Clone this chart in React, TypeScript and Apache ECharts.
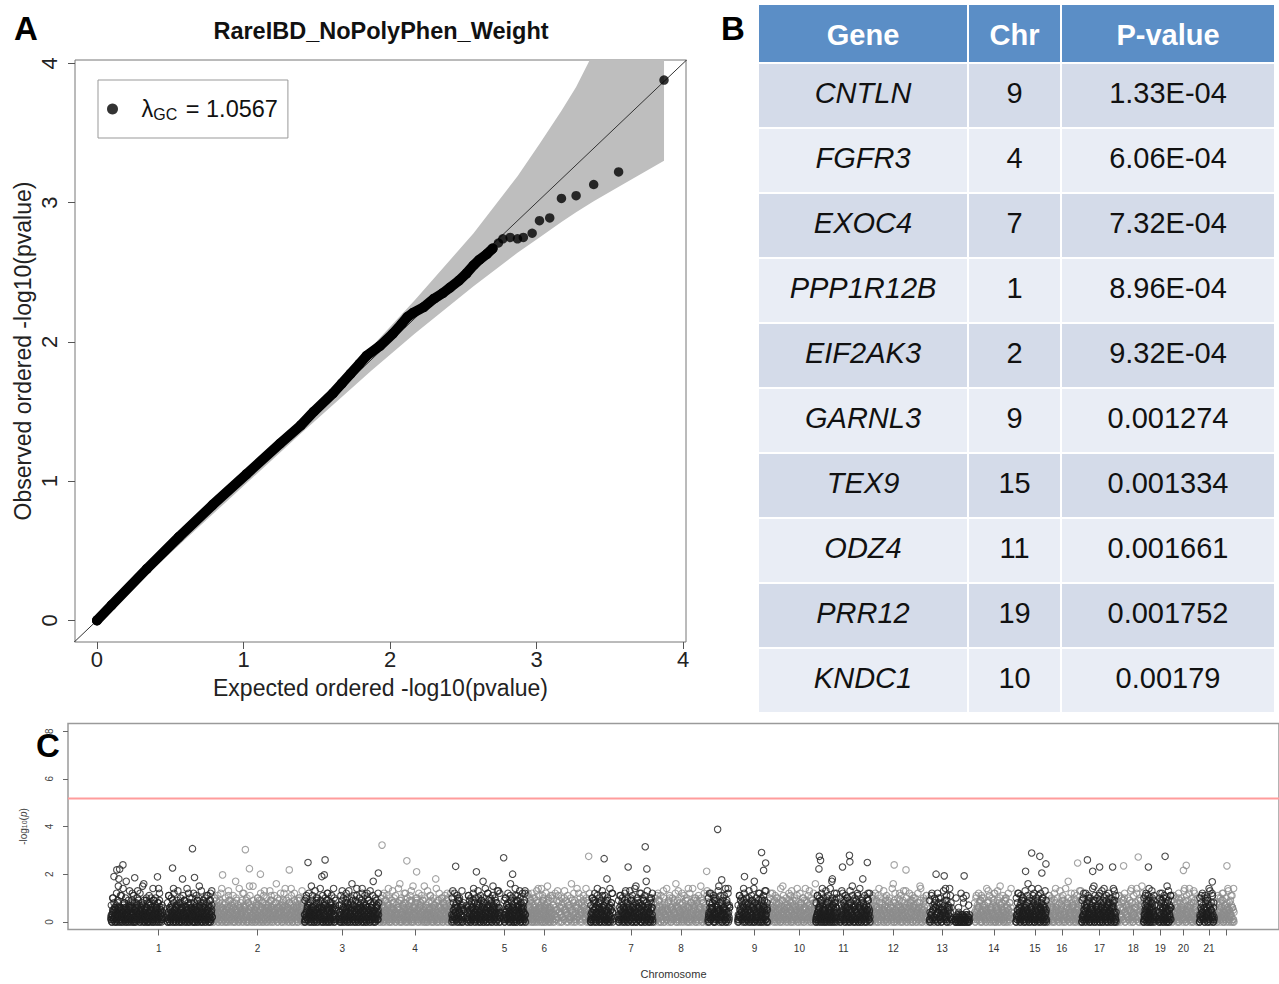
import React, { useEffect, useRef } from "react";
import * as echarts from "echarts";

// ---------------- Panel A : QQ plot ----------------
const QQ_TITLE = "RareIBD_NoPolyPhen_Weight";
const LAMBDA_GC = "1.0567";
const QQ_TICKS = [0, 1, 2, 3, 4];
// dense stretch of the ordered points (expected, observed)
const QQ_DENSE_EXPECTED = [0.0, 0.1, 0.34, 0.56, 0.79, 1.02, 1.25, 1.39, 1.48, 1.61, 1.67, 1.73, 1.79, 1.84, 1.93, 2.02, 2.08, 2.12, 2.16, 2.23, 2.3, 2.36, 2.41, 2.47, 2.52, 2.57, 2.61, 2.66, 2.7];
const QQ_DENSE_OBSERVED = [0.0, 0.11, 0.37, 0.6, 0.83, 1.05, 1.27, 1.4, 1.5, 1.63, 1.7, 1.77, 1.84, 1.9, 1.97, 2.06, 2.13, 2.18, 2.21, 2.25, 2.31, 2.35, 2.39, 2.44, 2.49, 2.55, 2.59, 2.63, 2.67];
// sparse top points
const QQ_TAIL_EXPECTED = [2.74, 2.77, 2.82, 2.87, 2.91, 2.97, 3.02, 3.09, 3.17, 3.27, 3.39, 3.56, 3.87];
const QQ_TAIL_OBSERVED = [2.71, 2.74, 2.75, 2.74, 2.75, 2.78, 2.87, 2.89, 3.03, 3.05, 3.13, 3.22, 3.88];
// 95% confidence band
const BAND_EXPECTED = [0, 0.87, 1.39, 1.87, 2.17, 2.57, 2.87, 3.02, 3.17, 3.27, 3.39, 3.57, 3.87];
const BAND_LOWER = [0, 0.84, 1.34, 1.79, 2.06, 2.4, 2.64, 2.75, 2.86, 2.93, 3.01, 3.12, 3.3];
const BAND_UPPER = [0, 0.9, 1.44, 1.96, 2.3, 2.78, 3.19, 3.42, 3.66, 3.83, 4.08, 4.49, 5.47];

// ---------------- Panel B : table ----------------
const TABLE_HEADERS = ["Gene", "Chr", "P-value"];
const GENES = ["CNTLN", "FGFR3", "EXOC4", "PPP1R12B", "EIF2AK3", "GARNL3", "TEX9", "ODZ4", "PRR12", "KNDC1"];
const GENE_CHR = ["9", "4", "7", "1", "2", "9", "15", "11", "19", "10"];
const GENE_PVALUES = ["1.33E-04", "6.06E-04", "7.32E-04", "8.96E-04", "9.32E-04", "0.001274", "0.001334", "0.001661", "0.001752", "0.00179"];

// ---------------- Panel C : Manhattan plot ----------------
const CHR_LABELS = ["1", "2", "3", "4", "5", "6", "7", "8", "9", "10", "11", "12", "13", "14", "15", "16", "17", "18", "19", "20", "21", ""];
const CHR_TICK_MB = [223, 466, 674, 853, 1073, 1171, 1384, 1507, 1688, 1798, 1906, 2029, 2149, 2276, 2377, 2443, 2536, 2619, 2685, 2742, 2805, 2847];
const MANHATTAN_Y_TICKS = [0, 2, 4, 6, 8];
const SIGNIF_LINE = 5.17;
// genes in each stretch: [chromosome, start (cumulative Mb), end (cumulative Mb), -log10(p) in tenths as base-36 chars]
const SEGMENTS: [number, number, number, string][] = [
  [1, 105, 233, "21035a14206371528f043162b0542718306h2413950261748c03125064817d2935104628173g0542196032704851a2630914275360184e290351621"],
  [1, 243, 355, "3014b2605173240e81526039147220638510i4271930526148c0317256a0413862057149032f6182405397126043b81527036914d2"],
  [2, 355, 581, "20417a3615204839126e0531742805163b92047153862014h39527106148235c0716429301857f2460317925140683a1724059136208d4175302684139b5027164385g120649371520864c13729540618327e1405629381746025a9314716280"],
  [3, 581, 659, "3102b4618253704f1926304715a82043617295j10462837150c4962031748526e13095"],
  [3, 666, 764, "1420371d5603218495a0271634805g2917350426b18305247169e0352841706c3924150836172h450219637418"],
  [4, 764, 943, "2051837b4016295378e1204639185a2407315862g1094372815c6032741958d2061473829a5103628471950f3172046385b2916047315i8204697132a5081746239c50418376"],
  [5, 943, 973, "31d502647183a029416350728"],
  [5, 980, 1063, "0261b4375081263e9410527386a140259317h0862415307c4926153804f71629350813d4620"],
  [5, 1071, 1125, "1304a5271863402g5917360428b150397264d10853726149c3"],
  [6, 1125, 1188, "20513c4726918350a41637205948e152637180b4925063718f52904163"],
  [6, 1188, 1284, "4b0736152d849307261a5394807162g5380941726c3058419672e380514"],
  [7, 1284, 1340, "0314a6258190347e2516083941b627035181i4920637158c40"],
  [7, 1352, 1438, "21063b5281470395d1628034175a9204631582f0749216380c5172943061h8253704191a630"],
  [8, 1438, 1573, "3502816b4937205164d0832715394a6025174386g1096253471c8204537196e2048163759a3012847365f9108426731b5"],
  [9, 1573, 1627, "024c6317582a0493716254f1837205946b1305827e416"],
  [9, 1646, 1720, "1302b5648173e9024617358a2041963750h8132647290c5318042769d31560"],
  [10, 1720, 1838, "41027c5386129047a5318260749f1352806174392b50861734295e1046382715a0963248175d2046913857g"],
  [11, 1838, 1891, "0213b4056172839e1042536071a8293041526h1730485962c0"],
  [11, 1897, 1972, "2104d6358170492a6315028471f3960527148b3061725049i8136204759c3152"],
  [12, 1972, 2112, "3061b2847159302e6418273056a9140285367142g0938516274c0615392847d6021537184906a3725048613f9260485173b2"],
  [13, 2117, 2173, "1403c5268193704a2615038472e1905362b81"],
  [13, 2180, 2217, "0102310420131032a010214301203"],
  [14, 2227, 2320, "2405b1736182940a5327160483d9215046378c1062594031f7285140639a2705318264"],
  [15, 2330, 2406, "0315c2640718293a5106427385g1094236517b8302164795e13026584a716204391"],
  [16, 2406, 2492, "3140b6278150392e4617028536a9130472681h5024938176c0453162809d7"],
  [17, 2492, 2577, "0213c5046178293a4016357281f0942615374b9031627048e5213960478a5130627948d0314"],
  [18, 2577, 2644, "4107b2638159a0463271958e2043681c5720396f14"],
  [19, 2644, 2673, "0315b62840719e3502618a4093172"],
  [19, 2680, 2712, "1402c6381950a2736140f8295031b6"],
  [20, 2712, 2778, "2504b1736182a0493571628e1045392c6718203d5946103"],
  [21, 2781, 2818, "0316b427150a8362904e17358c2061"],
  [22, 2822, 2867, "3105a2748163c9024715386e1052937b6014"],
  // further genes in the same stretches (the dense low core)
  [1, 105, 233, "13024152630410253614025132046351204130261524036142052130462513024163502413025163042152063410251304625130426153024"],
  [1, 243, 355, "204130521463025140362150421306251430264105320416132504026135024162041305261403251604210352"],
  [2, 355, 581, "1305241620351402634105230416251304620513402615304125630214052613042503614205236104251306241503621405231604235140263105241630251403624051302416250314"],
  [3, 581, 659, "03142516304215203641025130462514302615042130526140325160421305261"],
  [3, 666, 764, "20413052614032516042103526140235104213052614302516042130562410352614025130462153"],
  [4, 764, 943, "1402513062415302614052130462513024163502413025163042152063410251304625130426153024163502413025163042150263410251306425130426153024163502"],
  [5, 943, 973, "0213524130625140321605"],
  [5, 980, 1063, "14025130462153024163502413025163042152063410251304625130426153024"],
  [5, 1071, 1125, "203142516304215203641025130462514302615042130"],
  [6, 1125, 1188, "0132415026314052130462514302615042130526140325160421305"],
  [6, 1188, 1284, "214035120463025140362150421306251430264105320"],
  [7, 1284, 1340, "102413052614032516042103526140235104213052614"],
  [7, 1352, 1438, "03125140362150421306251430264105320416132504026135024162041305261"],
  [8, 1438, 1573, "2104351206430251403621504213062514302641053204161325040261350241620413052614032516042"],
  [9, 1573, 1627, "1302415263041025361402513204635120413026"],
  [9, 1646, 1720, "0213524130625140321605241302615042130526140325160421305"],
  [10, 1720, 1838, "30142516304215203641025130462514302615042130526140325160421305261403251604210352"],
  [11, 1838, 1891, "1023415263041025361402513204635120413026152403614"],
  [11, 1897, 1972, "012352413062514032160524130261504213052614032516042130526140"],
  [12, 1972, 2112, "21405312046302514036215042130625143026410532041613250402613502416204130526140325160421035261402"],
  [13, 2117, 2173, "01324150263140521304625143026150421"],
  [13, 2180, 2217, "1021032010230120310201"],
  [14, 2227, 2320, "13024152630410253614025132046351204130261524036142052130462513024"],
  [15, 2330, 2406, "021352413062514032160524130261504213052614032516042130526140"],
  [16, 2406, 2492, "1403251604210352614023510421305261430251604213056241035"],
  [17, 2492, 2577, "0213524130625140321605241302615042130526140325160421305261403251604210"],
  [18, 2577, 2644, "20413052614032516042103526140235104"],
  [19, 2644, 2673, "0132415026314052130462514302"],
  [19, 2680, 2712, "1024130526140325160421035261"],
  [20, 2712, 2778, "302415263041025361402513204635120413026152403"],
  [21, 2781, 2818, "0213524130625140321605241302"],
  [22, 2822, 2867, "10324150263140521304625143026150"],
  // looser cloud of genes between about 0.5 and 1.5
  [1, 105, 233, "7a85c96b4e8a57d69b84a7c5f96a8b75e9a68c47"],
  [1, 243, 355, "8b6a9c57d8a6b94e7a86c5b9a7d68a5b9c7"],
  [2, 355, 581, "6a9b7c85a6d97b8a5e69c7a8b6f57a9c8b6a7d95b8a6c79e5a8b7c69a5d8"],
  [3, 581, 659, "9a7c86b5d9a8e6b7a9c58b6a7"],
  [3, 666, 764, "7b9a6c8d5a7b9e6a8c7b5a9d6b8a7c"],
  [4, 764, 943, "8a6c9b7a5d8b6e9a7c8a5b9f6a8c7b9a6d5b8a7e9c6a8b7a5c"],
  [5, 943, 973, "a8c6b9a7d5"],
  [5, 980, 1063, "7b9a6c8a5d7b9a8e6c7a9b5a8d6c"],
  [5, 1071, 1125, "9a7c6b8a5e9b7a6c8d"],
  [6, 1125, 1188, "8b6a9c7a5d8b6e9a7c8a6b"],
  [6, 1188, 1284, "a7c9b6a8d5b7a9c6e8a7b5a9c"],
  [7, 1284, 1340, "7a9c6b8a5d7b9a6e8c"],
  [7, 1352, 1438, "9b7a6c8a5d9b7e6a8c7a9b5d6a8c"],
  [8, 1438, 1573, "8a6c9b7a5e8b6a9c7d8a5b9a6c8e7a9b6a8c5d"],
  [9, 1573, 1627, "a8c6b9a7d5b8a6e9c7"],
  [9, 1646, 1720, "7b9a6c8a5d7b9e8a6c7a9b5d8"],
  [10, 1720, 1838, "9a7c6b8a5e9b7a6c8d9a5b7c8a6e9b7a5c8"],
  [11, 1838, 1891, "8b6a9c7a5d8b6e9a7c8a"],
  [11, 1897, 1972, "a7c9b6a8d5b7a9c6e8a7b5a9c"],
  [12, 1972, 2112, "7a9c6b8a5d7b9a6e8c7a9b5d6a8c9b7a6c8e5a9b"],
  [13, 2117, 2173, "9b7a6c8a5d9b7e6"],
  [13, 2180, 2217, "a6c8b7"],
  [14, 2227, 2320, "8a6c9b7a5e8b6a9c7d8a5b9a6c8e"],
  [15, 2330, 2406, "a8c6b9a7d5b8a6e9c7a8b6c9a7d5"],
  [16, 2406, 2492, "7b9a6c8a5d7b9e8a6c7a9b5d8"],
  [17, 2492, 2577, "9a7c6b8a5e9b7a6c8d9a5b7c8a6e9b"],
  [18, 2577, 2644, "8b6a9c7a5d8b6e9a7c"],
  [19, 2644, 2673, "a7c9b6a8d5b7"],
  [19, 2680, 2712, "7a9c6b8a5d7b"],
  [20, 2712, 2778, "9b7a6c8a5d9b7e6a8c7a"],
  [21, 2781, 2818, "a8c6b9a7d5b8"],
  [22, 2822, 2867, "8b6a9c7a5d8b6e"],
];
// individual top genes: [chromosome, cumulative Mb, -log10(p)]
const PEAKS: [number, number, number][] = [
  [1, 113, 1.9], [1, 120, 2.18], [1, 125, 1.8], [1, 127, 2.21], [1, 135, 2.39], [1, 164, 1.85], [1, 220, 1.89], [1, 257, 2.26], [1, 306, 3.07], [1, 311, 1.86],
  [2, 380, 1.97], [2, 436, 3.03], [2, 446, 2.23], [2, 473, 2.0], [2, 544, 2.18],
  [3, 590, 2.49], [3, 630, 1.97], [3, 632, 2.6], [3, 763, 2.05],
  [4, 772, 3.22], [4, 833, 2.56], [4, 857, 2.1],
  [5, 953, 2.33], [5, 1004, 2.1], [5, 1071, 2.69], [5, 1093, 2.0],
  [6, 1280, 2.75],
  [7, 1318, 2.65], [7, 1377, 2.3], [7, 1419, 3.15], [7, 1423, 2.22],
  [8, 1570, 2.12],
  [9, 1597, 3.88], [9, 1607, 1.76], [9, 1663, 1.9], [9, 1705, 2.91], [9, 1710, 2.16], [9, 1715, 2.47],
  [11, 1847, 2.75], [11, 1850, 2.58], [11, 1846, 2.22], [11, 1879, 1.8], [11, 1904, 2.3], [11, 1921, 2.79], [11, 1922, 2.52], [11, 1965, 2.49],
  [12, 2031, 2.39], [12, 2060, 2.18],
  [13, 2134, 2.0], [13, 2154, 1.93], [13, 2203, 1.93],
  [15, 2354, 2.12], [15, 2369, 2.89], [15, 2389, 2.75], [15, 2394, 2.05], [15, 2404, 2.43],
  [16, 2482, 2.47], [17, 2506, 2.6], [17, 2519, 2.12], [17, 2536, 2.3], [17, 2568, 2.3],
  [18, 2595, 2.35], [18, 2631, 2.72],
  [19, 2656, 2.3], [19, 2697, 2.75],
  [20, 2742, 2.16], [20, 2749, 2.37],
  [21, 2813, 1.68], [22, 2849, 2.35],
];

const FONT = '"Liberation Sans", Arial, Helvetica, sans-serif';
const DARK = "#1e1e1e";
const GRAY = "#8c8c8c";
const LEGEND_NAME = "lambda";

function manhattanData() {
  const dark: number[][] = [];
  const gray: number[][] = [];
  for (const [chr, s, e, str] of SEGMENTS) {
    const n = str.length;
    const target = chr % 2 === 1 ? dark : gray;
    for (let k = 0; k < n; k++) {
      target.push([s + ((e - s) * (k + 0.5)) / n, parseInt(str[k], 36) / 10]);
    }
  }
  for (const [chr, x, y] of PEAKS) (chr % 2 === 1 ? dark : gray).push([x, y]);
  return { dark, gray };
}

function tableGraphics() {
  const colB = [758, 968, 1061, 1275];
  const top = 5;
  const headH = 58;
  const rowH = 65;
  const els: any[] = [];
  for (let c = 0; c < 3; c++) {
    const cx = (colB[c] + colB[c + 1]) / 2;
    els.push({ type: "rect", silent: true, shape: { x: colB[c] + 1, y: top, width: colB[c + 1] - colB[c] - 2, height: headH - 1 }, style: { fill: "#5b8ec6" } });
    els.push({ type: "text", silent: true, x: cx, y: top + headH / 2 + 1, style: { text: TABLE_HEADERS[c], fill: "#ffffff", fontSize: 29, fontWeight: "bold", fontFamily: FONT, align: "center", verticalAlign: "middle" } });
  }
  GENES.forEach((g, r) => {
    const y0 = top + headH + r * rowH;
    const fill = r % 2 === 0 ? "#d4dbe9" : "#e9edf5";
    const vals = [g, GENE_CHR[r], GENE_PVALUES[r]];
    for (let c = 0; c < 3; c++) {
      const cx = (colB[c] + colB[c + 1]) / 2;
      els.push({ type: "rect", silent: true, shape: { x: colB[c] + 1, y: y0 + 1, width: colB[c + 1] - colB[c] - 2, height: rowH - 2 }, style: { fill } });
      els.push({ type: "text", silent: true, x: cx, y: y0 + rowH / 2 - 3, style: { text: vals[c], fill: "#111111", fontSize: 29, fontStyle: c === 0 ? "italic" : "normal", fontFamily: FONT, align: "center", verticalAlign: "middle" } });
    }
  });
  return els;
}

function buildOption() {
  const { dark, gray } = manhattanData();
  const dense = QQ_DENSE_EXPECTED.map((x, i) => [x, QQ_DENSE_OBSERVED[i]]);
  const tail = QQ_TAIL_EXPECTED.map((x, i) => [x, QQ_TAIL_OBSERVED[i]]);
  const letter = (t: string, x: number, y: number) => ({
    type: "text", silent: true, x, y,
    style: { text: t, fontSize: 33, fontWeight: "bold", fontFamily: FONT, fill: "#000", align: "center", verticalAlign: "middle" },
  });
  return {
    animation: false,
    backgroundColor: "#ffffff",
    textStyle: { fontFamily: FONT },
    grid: [
      { left: 75, top: 60, width: 611, height: 582, show: true, borderColor: "#777", borderWidth: 1, backgroundColor: "transparent" },
      { left: 68, top: 723.5, width: 1215, height: 206, show: true, borderColor: "#9a9a9a", borderWidth: 1.5, backgroundColor: "transparent" },
    ],
    xAxis: [
      {
        type: "value", gridIndex: 0, min: -0.15, max: 4.02,
        name: "Expected ordered -log10(pvalue)", nameLocation: "middle", nameGap: 34,
        nameTextStyle: { fontSize: 23, color: "#222" },
        axisLine: { show: false, onZero: false },
        axisTick: { show: true, customValues: QQ_TICKS, length: 7, lineStyle: { color: "#555" } },
        axisLabel: { customValues: QQ_TICKS, fontSize: 22, color: "#222", margin: 6 },
        splitLine: { show: false },
      },
      {
        type: "value", gridIndex: 1, min: 0, max: 2977,
        name: "Chromosome", nameLocation: "middle", nameGap: 39,
        nameTextStyle: { fontSize: 11, color: "#333" },
        axisLine: { show: false, onZero: false },
        axisTick: { show: true, customValues: CHR_TICK_MB, length: 6, lineStyle: { color: "#666" } },
        axisLabel: {
          customValues: CHR_TICK_MB, fontSize: 10, color: "#333", margin: 14,
          formatter: (v: number) => CHR_LABELS[CHR_TICK_MB.indexOf(v)] ?? "",
        },
        splitLine: { show: false },
      },
    ],
    yAxis: [
      {
        type: "value", gridIndex: 0, min: -0.155, max: 4.024,
        name: "Observed ordered -log10(pvalue)", nameLocation: "middle", nameGap: 41, nameRotate: 90,
        nameTextStyle: { fontSize: 23, color: "#222" },
        axisLine: { show: false, onZero: false },
        axisTick: { show: true, customValues: QQ_TICKS, length: 7, lineStyle: { color: "#555" } },
        axisLabel: { customValues: QQ_TICKS, fontSize: 22, color: "#222", margin: 15, rotate: 90 },
        splitLine: { show: false },
      },
      {
        type: "value", gridIndex: 1, min: -0.32, max: 8.32,
        name: "-log{s|10}({i|p})", nameLocation: "middle", nameGap: 40, nameRotate: 90,
        nameTextStyle: { fontSize: 10, color: "#444", rich: { s: { fontSize: 7, verticalAlign: "bottom", lineHeight: 8 }, i: { fontSize: 10, fontStyle: "italic" } } },
        axisLine: { show: false, onZero: false },
        axisTick: { show: true, customValues: MANHATTAN_Y_TICKS, length: 5, lineStyle: { color: "#666" } },
        axisLabel: { customValues: MANHATTAN_Y_TICKS, fontSize: 10, color: "#444", margin: 14, rotate: 90 },
        splitLine: { show: false },
      },
    ],
    legend: {
      data: [{ name: LEGEND_NAME, icon: "circle" }],
      left: 98, top: 80, orient: "vertical",
      padding: [16, 10, 16, 9],
      itemWidth: 24, itemHeight: 11,
      borderColor: "#999", borderWidth: 1,
      selectedMode: false,
      formatter: () => `λ{sub|GC} = ${LAMBDA_GC}`,
      textStyle: { fontSize: 23.5, color: "#111", padding: [0, 0, 0, 12], lineHeight: 26, rich: { sub: { fontSize: 16, lineHeight: 16, verticalAlign: "bottom", padding: [0, 2, 0, 0] } } },
    },
    graphic: {
      elements: [
        letter("A", 26, 28),
        letter("B", 733, 28),
        letter("C", 48, 745),
        { type: "text", silent: true, x: 381, y: 31, style: { text: QQ_TITLE, fontSize: 23.5, fontWeight: "bold", fontFamily: FONT, fill: "#111", align: "center", verticalAlign: "middle" } },
        ...tableGraphics(),
      ],
    },
    series: [
      {
        type: "custom", name: "band", xAxisIndex: 0, yAxisIndex: 0, clip: true, silent: true, z: 1,
        data: [[0, 0]],
        renderItem: (_p: any, api: any) => {
          const pts: number[][] = [];
          BAND_EXPECTED.forEach((x, i) => pts.push(api.coord([x, BAND_UPPER[i]])));
          for (let i = BAND_EXPECTED.length - 1; i >= 0; i--) pts.push(api.coord([BAND_EXPECTED[i], BAND_LOWER[i]]));
          return { type: "polygon", shape: { points: pts }, style: { fill: "#bebebe", stroke: "none" } };
        },
      },
      {
        type: "line", name: "diagonal", xAxisIndex: 0, yAxisIndex: 0, silent: true, z: 2,
        data: [[-0.3, -0.3], [4.3, 4.3]], symbol: "none",
        lineStyle: { color: "#333", width: 1 },
      },
      {
        type: "line", name: "dense", xAxisIndex: 0, yAxisIndex: 0, silent: true, z: 3,
        data: dense, symbol: "circle", symbolSize: 10, showSymbol: true,
        itemStyle: { color: "#000" },
        lineStyle: { color: "#000", width: 10, cap: "round", join: "round" },
      },
      {
        type: "scatter", name: LEGEND_NAME, xAxisIndex: 0, yAxisIndex: 0, silent: true, z: 4,
        data: tail, symbol: "circle", symbolSize: 9.5, itemStyle: { color: "#000" },
      },
      {
        type: "line", name: "threshold", xAxisIndex: 1, yAxisIndex: 1, silent: true, z: 2,
        data: [[0, SIGNIF_LINE], [2977, SIGNIF_LINE]], symbol: "none",
        lineStyle: { color: "#ff9c9c", width: 2 },
      },
      {
        type: "scatter", name: "even chromosomes", xAxisIndex: 1, yAxisIndex: 1, silent: true, z: 3,
        data: gray, symbol: "circle", symbolSize: 6.5, progressive: 0, large: false,
        itemStyle: { color: "rgba(0,0,0,0)", borderColor: GRAY, borderWidth: 1.1 },
      },
      {
        type: "scatter", name: "odd chromosomes", xAxisIndex: 1, yAxisIndex: 1, silent: true, z: 4,
        data: dark, symbol: "circle", symbolSize: 6.5, progressive: 0, large: false,
        itemStyle: { color: "rgba(0,0,0,0)", borderColor: DARK, borderWidth: 1.1 },
      },
    ],
  };
}

export default function App() {
  const ref = useRef<HTMLDivElement>(null);
  useEffect(() => {
    document.body.style.margin = "0";
    const chart = echarts.init(ref.current!, null, { renderer: "svg" });
    chart.setOption(buildOption() as any);
    return () => chart.dispose();
  }, []);
  return <div ref={ref} style={{ width: 1279, height: 984 }} />;
}
